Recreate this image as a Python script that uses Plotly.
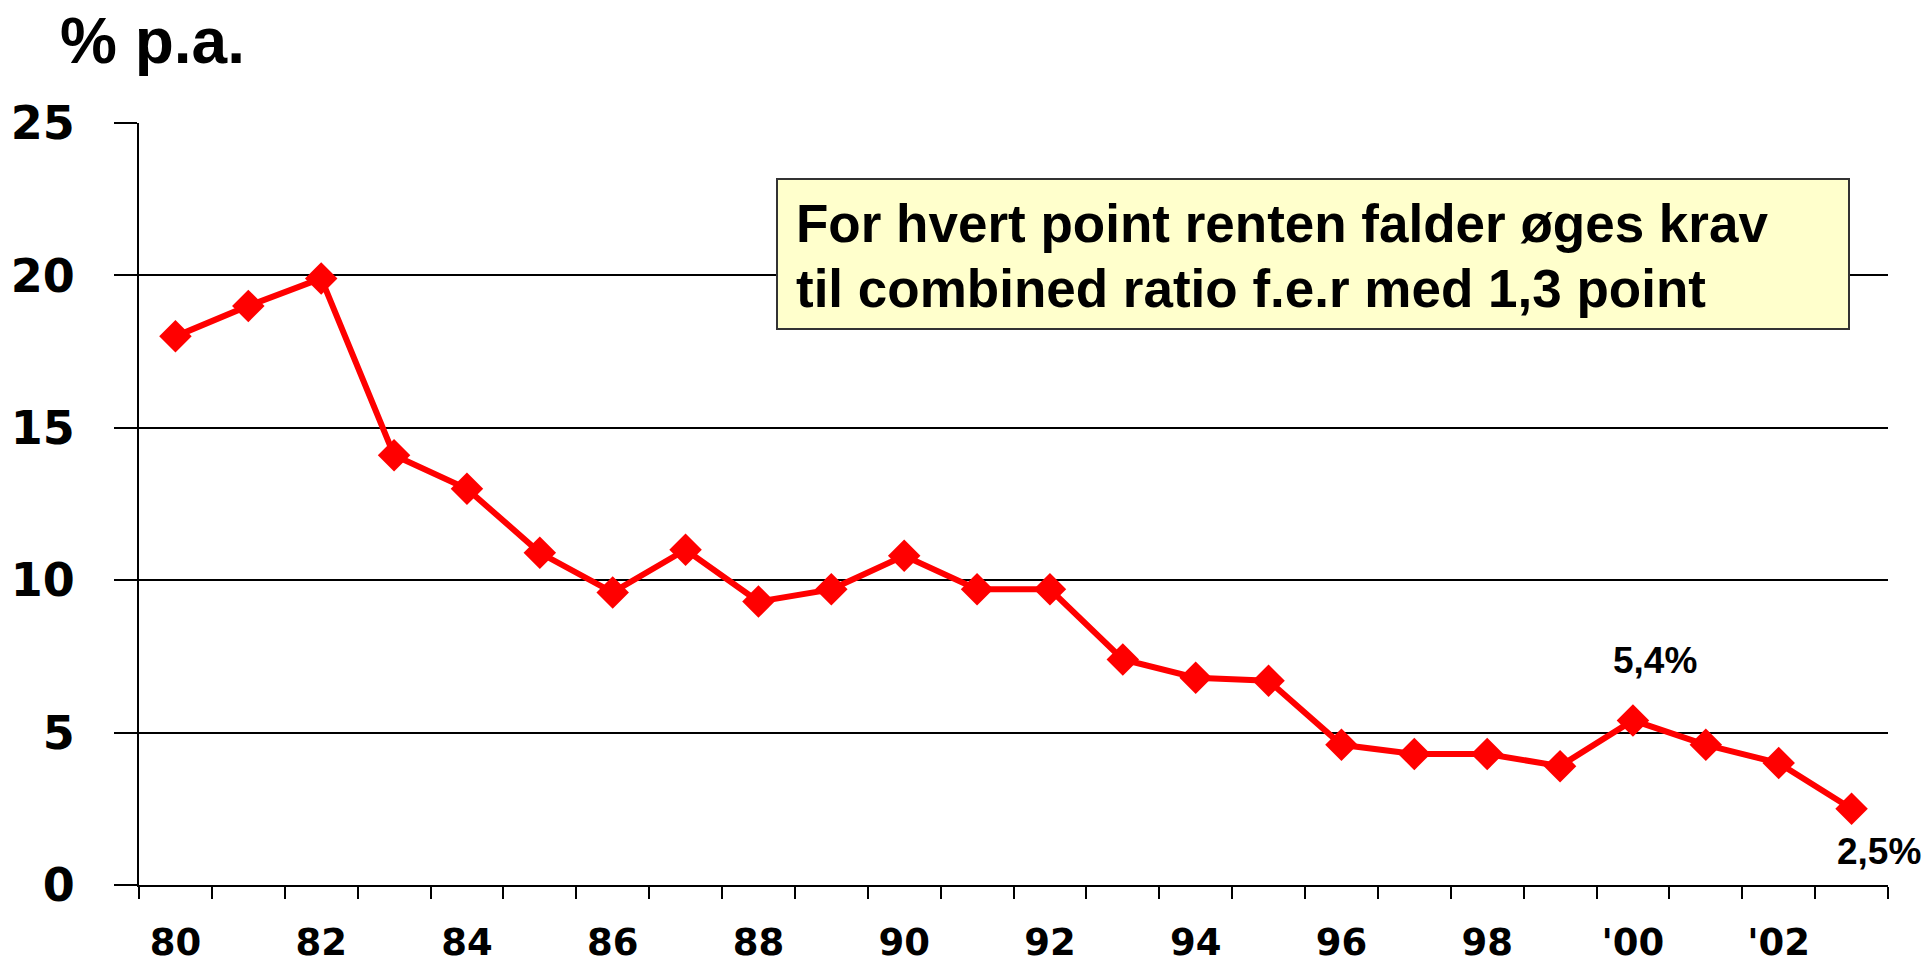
import plotly.graph_objects as go

# ---- data ----
years = list(range(1980, 2004))
rates = [18.0, 19.0, 19.9, 14.1, 13.0, 10.9, 9.6, 11.0, 9.3, 9.7, 10.8, 9.7,
         9.7, 7.4, 6.8, 6.7, 4.6, 4.3, 4.3, 3.9, 5.4, 4.6, 4.0, 2.5]
tick_years = list(range(1980, 2004, 2))
tick_labels = ["80", "82", "84", "86", "88", "90", "92", "94", "96", "98", "'00", "'02"]
y_ticks = [0, 5, 10, 15, 20, 25]
label_years = [2000, 2003]
y_title = "% p.a."
note_lines = ["For hvert point renten falder øges krav",
              "til combined ratio f.e.r med 1,3 point"]

W, H = 1923, 965
L, R, T, B = 139, 35, 123, 80
pw, ph = W - L - R, H - T - B

def px_x(p):
    return (p - L) / pw

def px_y(p):
    return 1 - (p - T) / ph

boundaries = [y - 0.5 for y in years] + [years[-1] + 0.5]

fig = go.Figure()
fig.add_trace(go.Scatter(
    x=years, y=rates, mode="lines+markers",
    line=dict(color="#FF0000", width=6),
    marker=dict(symbol="diamond", size=25, color="#FF0000"),
    hoverinfo="skip", showlegend=False,
))

# value labels
shifts = {2000: (22, 60), 2003: (27, -43)}
for yr in label_years:
    v = rates[years.index(yr)]
    xs, ys = shifts[yr]
    fig.add_annotation(
        x=yr, y=v, xref="x", yref="y", showarrow=False,
        text=f"{v:.1f}".replace(".", ",") + "%",
        xshift=xs, yshift=ys,
        font=dict(family="Liberation Sans, Arial", size=37, color="black", weight="bold"),
    )

# note box
fig.add_shape(
    type="rect", xref="paper", yref="paper",
    x0=px_x(777), x1=px_x(1849), y0=px_y(329), y1=px_y(179),
    fillcolor="#FFFFCC", line=dict(color="#333333", width=2), layer="above",
)
for i, line in enumerate(note_lines):
    fig.add_annotation(
        xref="paper", yref="paper", x=px_x(794), y=px_y(223.5 + 65 * i),
        xanchor="left", yanchor="middle", align="left", showarrow=False,
        text=line,
        font=dict(family="Liberation Sans, Arial", size=53, color="black", weight="bold"),
    )

# y title
fig.add_annotation(
    xref="paper", yref="paper", x=px_x(58), y=px_y(41),
    xanchor="left", yanchor="middle", showarrow=False,
    text=y_title,
    font=dict(family="Liberation Sans, Arial", size=64, color="black", weight="bold"),
)

fig.update_layout(
    width=W, height=H,
    margin=dict(l=L, r=R, t=T, b=B, pad=0, autoexpand=False),
    plot_bgcolor="white", paper_bgcolor="white",
    showlegend=False,
)
fig.update_xaxes(
    automargin=False,
    range=[years[0] - 0.5, years[-1] + 0.5],
    tickmode="array", tickvals=tick_years, ticktext=tick_labels,
    ticks="", showgrid=False, zeroline=False,
    showline=True, linecolor="black", linewidth=2,
    tickfont=dict(family="DejaVu Sans", size=37, color="black", weight="bold"),
    ticklabelstandoff=24,
    minor=dict(tickmode="array", tickvals=boundaries, ticks="outside",
               ticklen=12, tickwidth=2, tickcolor="black", showgrid=False),
)
fig.update_yaxes(
    automargin=False,
    range=[0, 25], tickmode="array", tickvals=y_ticks,
    ticks="outside", ticklen=23, tickwidth=2, tickcolor="black",
    showgrid=True, gridcolor="black", gridwidth=2, zeroline=False,
    showline=True, linecolor="black", linewidth=2,
    tickfont=dict(family="DejaVu Sans", size=46, color="black", weight="bold"),
    ticklabelstandoff=30,
)

fig.write_html("out.html", config={"displayModeBar": False},
               post_script="document.body.style.margin='0px';document.body.style.overflow='hidden';")
